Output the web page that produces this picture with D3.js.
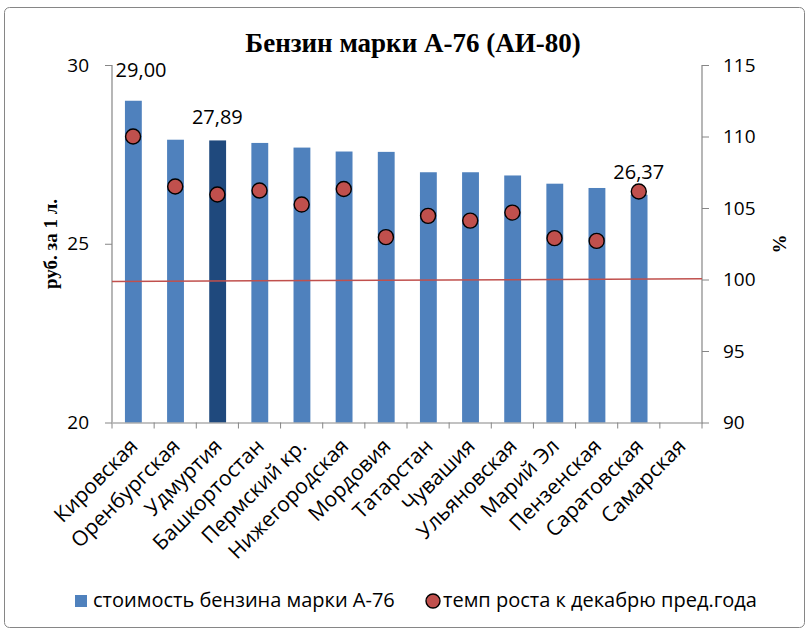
<!DOCTYPE html>
<html><head><meta charset="utf-8">
<script src="https://cdn.jsdelivr.net/npm/d3@7"></script>
<style>
html,body{margin:0;padding:0;background:#fff;}
svg{display:block;}
</style></head>
<body>
<script>
const title = "Бензин марки А-76 (АИ-80)";
const categories = ["Кировская","Оренбургская","Удмуртия","Башкортостан","Пермский кр.","Нижегородская","Мордовия","Татарстан","Чувашия","Ульяновская","Марий Эл","Пензенская","Саратовская","Самарская"];
const price = [29.00, 27.91, 27.89, 27.82, 27.69, 27.58, 27.57, 27.00, 27.00, 26.91, 26.68, 26.56, 26.37, null];
const growth = [110.0, 106.5, 105.94, 106.22, 105.24, 106.33, 102.96, 104.45, 104.12, 104.68, 102.89, 102.70, 106.15, null];
const refLine = [99.86, 100.05];
const leftTicks = [20, 25, 30];
const rightTicks = [90, 95, 100, 105, 110, 115];
const labelled = ["Кировская", "Удмуртия", "Саратовская"];
const highlight = "Удмуртия";
const seriesNames = ["стоимость бензина марки А-76", "темп роста к декабрю пред.года"];
const leftTitle = "руб. за 1 л.";
const rightTitle = "%";

const W = 809, H = 633;
const M = {left: 112, right: 702, top: 65, bottom: 422.5};
const FONT = "'Open Sans', 'Noto Sans', sans-serif";
const SERIF = "'Liberation Serif', 'DejaVu Serif', serif";
const AXIS = "#868686";

const svg = d3.select("body").append("svg").attr("width", W).attr("height", H);

svg.append("rect").attr("x", 4.5).attr("y", 7.5).attr("width", 800).attr("height", 620)
  .attr("rx", 5).attr("fill", "#fff").attr("stroke", AXIS).attr("stroke-width", 1);

const x = d3.scaleBand().domain(categories).range([M.left, M.right]).padding(0);
const yL = d3.scaleLinear().domain([20, 30]).range([M.bottom, M.top]);
const yR = d3.scaleLinear().domain([90, 115]).range([M.bottom, M.top]);
const xLine = d3.scaleLinear().domain([0, refLine.length - 1]).range([M.left, M.right]);

// title
svg.append("text").attr("x", 413).attr("y", 52).attr("text-anchor", "middle")
  .attr("font-family", SERIF).attr("font-weight", "bold").attr("font-size", 27)
  .text(title);

// bars
const barW = x.bandwidth() * 0.4;
const data = categories.map((c, i) => ({c, p: price[i], g: growth[i]}));
svg.append("g").selectAll("rect").data(data.filter(d => d.p != null)).join("rect")
  .attr("x", d => x(d.c) + x.bandwidth() / 2 - barW / 2 + 0.3)
  .attr("width", barW)
  .attr("y", d => yL(d.p))
  .attr("height", d => yL(20) - yL(d.p))
  .attr("fill", d => d.c === highlight ? "#1f497d" : "#4f81bd");

// axes
const gL = svg.append("g").attr("transform", `translate(${M.left},0)`)
  .call(d3.axisLeft(yL).tickValues(leftTicks).tickSize(7).tickPadding(16).tickFormat(d3.format("d")));
const gR = svg.append("g").attr("transform", `translate(${M.right},0)`)
  .call(d3.axisRight(yR).tickValues(rightTicks).tickSize(7).tickPadding(14).tickFormat(d3.format("d")));
const gB = svg.append("g").attr("transform", `translate(0,${M.bottom})`)
  .call(d3.axisBottom(x).tickSize(0).tickFormat(""));
gB.selectAll(".bt").data(d3.range(categories.length + 1)).join("line")
  .attr("x1", i => M.left + i * x.step()).attr("x2", i => M.left + i * x.step())
  .attr("y1", 0).attr("y2", 6).attr("stroke", AXIS);
[gL, gR, gB].forEach(g => {
  g.select(".domain").attr("stroke", AXIS).attr("stroke-width", 1.2);
  g.selectAll(".tick line").attr("stroke", AXIS);
  g.selectAll("text").attr("font-family", FONT).attr("font-size", 19).attr("fill", "#000");
});
gL.select(".domain").attr("d", `M0,${M.top}V${M.bottom}`);
gR.select(".domain").attr("d", `M0,${M.top}V${M.bottom}`);

// x labels
svg.append("g").selectAll("text").data(categories).join("text")
  .attr("transform", d => `translate(${x(d) + x.bandwidth() / 2 + 6},${M.bottom + 25}) rotate(-45)`)
  .attr("text-anchor", "end")
  .attr("font-family", FONT).attr("font-size", 21).attr("fill", "#000")
  .text(d => d);

// reference line
svg.append("path").datum(refLine)
  .attr("d", d3.line().x((d, i) => xLine(i)).y(d => yR(d)))
  .attr("fill", "none").attr("stroke", "#c0504d").attr("stroke-width", 1.5);

// dots
svg.append("g").selectAll("circle").data(data.filter(d => d.g != null)).join("circle")
  .attr("cx", d => x(d.c) + x.bandwidth() / 2)
  .attr("cy", d => yR(d.g))
  .attr("r", 7.5)
  .attr("fill", "#c0504d").attr("stroke", "#000").attr("stroke-width", 1.4);

// data labels
const fmt = v => v.toFixed(2).replace(".", ",");
const nudge = {"Кировская": [8, -8]};
svg.append("g").selectAll("text").data(data.filter(d => labelled.includes(d.c))).join("text")
  .attr("x", d => x(d.c) + x.bandwidth() / 2 + (nudge[d.c] ? nudge[d.c][0] : 0))
  .attr("y", d => yL(d.p) - 16 + (nudge[d.c] ? nudge[d.c][1] : 0))
  .attr("text-anchor", "middle")
  .attr("font-family", FONT).attr("font-size", 20).attr("fill", "#000")
  .text(d => fmt(d.p));

// axis titles
svg.append("text").attr("transform", `translate(57,244) rotate(-90)`)
  .attr("text-anchor", "middle").attr("font-family", SERIF).attr("font-weight", "bold").attr("font-size", 19)
  .text(leftTitle);
svg.append("text").attr("transform", `translate(786,244) rotate(-90)`)
  .attr("text-anchor", "middle").attr("font-family", SERIF).attr("font-weight", "bold").attr("font-size", 19)
  .text(rightTitle);

// legend
const lg = svg.append("g");
lg.append("rect").attr("x", 75).attr("y", 595).attr("width", 12).attr("height", 12).attr("fill", "#4f81bd");
lg.append("text").attr("x", 93).attr("y", 607).attr("font-family", FONT).attr("font-size", 20).text(seriesNames[0]);
lg.append("circle").attr("cx", 433).attr("cy", 601).attr("r", 7).attr("fill", "#c0504d").attr("stroke", "#000").attr("stroke-width", 1.4);
lg.append("text").attr("x", 443).attr("y", 607).attr("font-family", FONT).attr("font-size", 20).text(seriesNames[1]);
</script>
</body></html>
